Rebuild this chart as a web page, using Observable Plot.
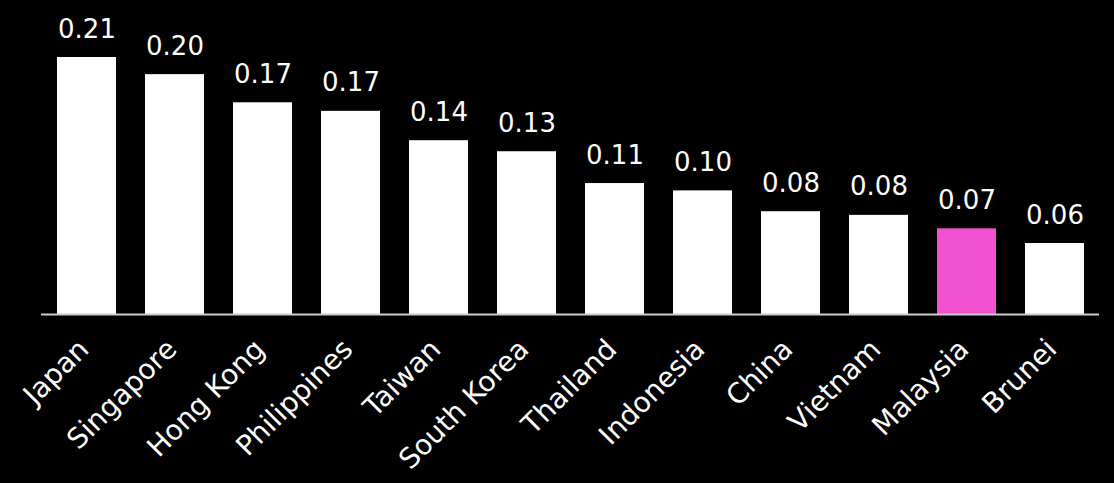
<!DOCTYPE html>
<html>
<head>
<meta charset="utf-8">
<script src="https://cdn.jsdelivr.net/npm/d3@7"></script>
<script src="https://cdn.jsdelivr.net/npm/@observablehq/plot@0.6"></script>
<style>
  html, body { margin: 0; padding: 0; background: #000; }
  #chart svg { display: block; }
</style>
</head>
<body>
<div id="chart"></div>
<script>
const countries = ["Japan", "Singapore", "Hong Kong", "Philippines", "Taiwan", "South Korea", "Thailand", "Indonesia", "China", "Vietnam", "Malaysia", "Brunei"];
const values = [0.210, 0.196, 0.173, 0.166, 0.142, 0.133, 0.107, 0.101, 0.084, 0.081, 0.070, 0.058];
const highlight = "Malaysia";

const data = countries.map((c, i) => ({country: c, value: values[i]}));
const fmt = d3.format(".2f");
const font = "'DejaVu Sans', sans-serif";

const chart = Plot.plot({
  width: 1114,
  height: 483,
  marginLeft: 41,
  marginRight: 15,
  marginTop: 57,
  marginBottom: 169,
  style: {background: "#000", color: "#fff", fontFamily: font},
  x: {domain: countries, paddingInner: 0.33, paddingOuter: 0.165, label: null},
  y: {domain: [0, 0.21], axis: null},
  marks: [
    Plot.barY(data, {
      x: "country", y: "value",
      fill: d => d.country === highlight ? "#f252cf" : "#ffffff"
    }),
    Plot.ruleY([0], {stroke: "#cccccc", strokeWidth: 2}),
    Plot.text(data, {
      x: "country", y: "value",
      text: d => fmt(d.value),
      lineAnchor: "bottom",
      dy: -20,
      fill: "#fff",
      fontSize: 26
    }),
    Plot.axisX({
      tickSize: 0,
      tickPadding: 30,
      tickRotate: -45,
      dx: -3,
      fontSize: 28,
      color: "#fff",
      label: null
    })
  ]
});
document.getElementById("chart").appendChild(chart);
</script>
</body>
</html>
